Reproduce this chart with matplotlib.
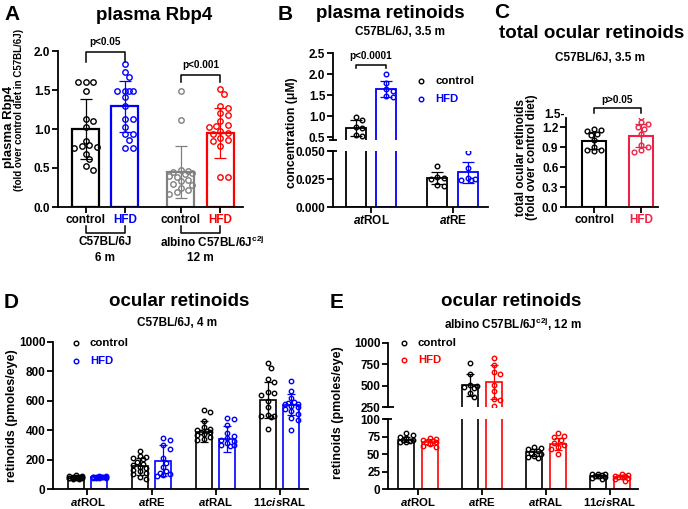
import numpy as np
import matplotlib
matplotlib.use("Agg")
import matplotlib.pyplot as plt
from matplotlib.lines import Line2D

plt.rcParams['font.family'] = ['Liberation Sans', 'DejaVu Sans']
plt.rcParams['font.weight'] = 'bold'
plt.rcParams['mathtext.fontset'] = 'custom'
plt.rcParams['mathtext.rm'] = 'Liberation Sans:bold'
plt.rcParams['mathtext.bf'] = 'Liberation Sans:bold'
plt.rcParams['mathtext.it'] = 'Liberation Sans:italic:bold'

# ---------------- data ----------------
# Panel A: plasma Rbp4 (fold over control diet in C57BL/6J)
a_ticklabels = ['control', 'HFD', 'control', 'HFD']
a_means = [1.00, 1.29, 0.45, 0.95]
a_sds = [0.39, 0.33, 0.33, 0.32]
a_c57_ctrl = [1.60, 1.60, 1.60, 1.49, 1.13, 1.10, 1.02, 0.85, 0.79, 0.78, 0.77, 0.76, 0.68, 0.61, 0.52, 0.48]
a_c57_hfd = [1.83, 1.73, 1.67, 1.49, 1.49, 1.49, 1.49, 1.41, 1.29, 1.13, 1.13, 1.02, 0.93, 0.93, 0.86, 0.76, 0.76]
a_alb_ctrl = [1.49, 1.11, 0.47, 0.46, 0.45, 0.44, 0.42, 0.40, 0.38, 0.35, 0.33, 0.30, 0.28, 0.25, 0.22, 0.19, 0.17]
a_alb_hfd = [1.51, 1.45, 1.29, 1.27, 1.20, 1.18, 1.10, 1.05, 1.04, 1.03, 0.97, 0.95, 0.93, 0.88, 0.86, 0.84, 0.78, 0.39, 0.39]
a_pvals = ['p<0.05', 'p<0.001']

# Panel B: plasma retinoids (uM)
b_cats = ['$\\mathit{at}$ROL', '$\\mathit{at}$RE']
b_ctrl_means = [0.72, 0.026]
b_ctrl_sds = [0.19, 0.0055]
b_hfd_means = [1.64, 0.031]
b_hfd_sds = [0.19, 0.0095]
b_ctrl_pts = [[0.98, 0.90, 0.75, 0.72, 0.55, 0.52], [0.037, 0.027, 0.026, 0.025, 0.020, 0.019]]
b_hfd_pts = [[2.00, 1.78, 1.64, 1.60, 1.48, 1.45], [0.049, 0.035, 0.026, 0.025, 0.024, 0.024]]
b_pval = 'p<0.0001'

# Panel C: total ocular retinoids (fold over control diet)
c_labels = ['control', 'HFD']
c_means = [0.995, 1.07]
c_sds = [0.125, 0.17]
c_ctrl_pts = [1.17, 1.16, 1.14, 1.10, 1.08, 1.01, 0.90, 0.86, 0.85, 0.84]
c_hfd_pts = [1.35, 1.27, 1.25, 1.20, 1.17, 1.10, 0.93, 0.90, 0.85, 0.83]
c_pval = 'p>0.05'

# Panel D: ocular retinoids, C57BL/6J, 4 m (pmoles/eye)
de_cats = ['$\\mathit{at}$ROL', '$\\mathit{at}$RE', '$\\mathit{at}$RAL', '11$\\mathit{cis}$RAL']
d_ctrl_means = [80, 155, 391, 606]
d_ctrl_sds = [8, 58, 70, 122]
d_hfd_means = [80, 192, 338, 574]
d_hfd_sds = [5, 105, 88, 70]
d_ctrl_pts = [
    [92, 88, 86, 84, 82, 80, 79, 78, 77, 76, 75, 74, 72, 70, 68],
    [258, 222, 215, 210, 205, 185, 170, 160, 150, 140, 130, 120, 110, 100, 85, 70],
    [538, 525, 462, 420, 410, 400, 395, 390, 385, 375, 365, 355, 340, 330],
    [854, 826, 746, 731, 660, 652, 640, 600, 560, 505, 500, 495, 488, 406],
]
d_hfd_pts = [
    [88, 86, 84, 83, 82, 81, 80, 80, 79, 78, 77, 76, 75],
    [344, 330, 300, 275, 210, 180, 150, 120, 110, 100, 95, 90],
    [484, 477, 434, 380, 360, 345, 335, 325, 310, 300, 300, 290],
    [735, 670, 620, 590, 585, 580, 575, 565, 555, 545, 530, 510, 480, 470, 400],
]

# Panel E: ocular retinoids, albino C57BL/6J c2j, 12 m (pmoles/eye)
e_ctrl_means = [71, 508, 52.5, 18.5]
e_ctrl_sds = [4, 130, 5.5, 2.3]
e_hfd_means = [67.5, 545, 64.5, 17.5]
e_hfd_sds = [4.5, 200, 9, 2.8]
e_ctrl_pts = [
    [80, 78, 75, 73, 71, 70, 69, 68, 68],
    [759, 635, 510, 500, 490, 470, 420, 375],
    [60, 59, 57, 55, 52, 50, 48, 46, 45],
    [22, 21, 21, 20, 19, 18, 17, 16, 15],
]
e_hfd_pts = [
    [73, 72, 70, 69, 68, 67, 65, 62, 60],
    [825, 745, 665, 640, 510, 440, 350, 340, 265],
    [81, 76, 74, 70, 66, 63, 60, 58, 50],
    [21, 20, 19, 18, 17, 17, 16, 14, 12],
]

legend_labels = ['control', 'HFD']

BLACK = '#000000'
BLUE = '#0000ff'
RED = '#ff0000'
GRAY = '#808080'
CRED = '#ee2244'

# ---------------- figure helpers ----------------
W, H = 688, 509
fig = plt.figure(figsize=(W / 100, H / 100), dpi=100)


def px_ax(l, t, r, b):
    return fig.add_axes([l / W, (H - b) / H, (r - l) / W, (b - t) / H])


def T(x, y, s, **kw):
    kw.setdefault('ha', 'center')
    kw.setdefault('va', 'center')
    kw.setdefault('fontweight', 'bold')
    fig.text(x / W, (H - y) / H, s, **kw)


def legend_item(x, y, label, color, size=8.2):
    fig.add_artist(Line2D([x / W], [(H - y) / H], transform=fig.transFigure, marker='o', ms=3.3,
                          mfc='none', mec=color, mew=1.0, ls='none'))
    T(x + 14, y, label, ha='left', color=color, fontsize=size)


def style(ax, lw=1.3, fs=8.5, bottom=True):
    ax.spines['top'].set_visible(False)
    ax.spines['right'].set_visible(False)
    ax.spines['left'].set_linewidth(lw)
    ax.spines['bottom'].set_linewidth(lw)
    ax.spines['bottom'].set_visible(bottom)
    ax.tick_params(width=lw, length=4, labelsize=fs, pad=1.5)
    ax.tick_params(axis='x', pad=1.0)
    if not bottom:
        ax.tick_params(axis='x', bottom=False, labelbottom=False)
    ax.patch.set_alpha(0)


def swarm(ax, xc, vals, d, maxoff):
    """Horizontal spread of points (pixel space), limited to maxoff pixels."""
    tr = ax.transData
    pts = tr.transform(np.column_stack([np.full(len(vals), float(xc)), np.asarray(vals, float)]))
    step = d * 0.6
    kmax = max(int(maxoff // step), 0)
    ks = [0]
    for k in range(1, kmax + 1):
        ks += [k, -k]
    placed = []
    xs = []
    for px, py in pts:
        best, bestd = px, -1
        chosen = None
        for k in ks:
            cx = px + k * step
            md = min([np.hypot(cx - qx, py - qy) for qx, qy in placed] + [1e9])
            if md >= 0.92 * d:
                chosen = cx
                break
            if md > bestd:
                best, bestd = cx, md
        if chosen is None:
            chosen = best
        placed.append((chosen, py))
        xs.append(chosen)
    back = tr.inverted().transform(np.column_stack([xs, pts[:, 1]]))
    return back[:, 0]


def draw_bar(axes, x, mean, sd, pts, color, width, lw, cap, ms, swarm_ax=None):
    sax = swarm_ax if swarm_ax is not None else axes[0]
    wpx = abs(sax.transData.transform((width, 0))[0] - sax.transData.transform((0, 0))[0])
    xs = swarm(sax, x, pts, ms * 100 / 72 + 1.0, 0.5 * wpx)
    for ax in axes:
        ax.bar(x, mean, width, facecolor='none', edgecolor=color, linewidth=lw, zorder=2)
        ax.errorbar(x, mean, yerr=sd, color=color, capsize=cap, elinewidth=0.9, capthick=0.9,
                    zorder=3, fmt='none')
        ax.plot(xs, pts, 'o', mfc='none', mec=color, mew=1.0, ms=ms, zorder=4, ls='none')


def bracket(ax, x1, x2, y, drop, text, ty, fs=7.2):
    ax.plot([x1, x1, x2, x2], [y - drop, y, y, y - drop], color='black', lw=1.1, clip_on=False)
    ax.text((x1 + x2) / 2, ty, text, ha='center', va='center', fontsize=fs, fontweight='bold', clip_on=False)


def break_mark(ax, yfrac, left_px=4, right_px=4, lw=1.3):
    bb = ax.get_position()
    wpx = bb.width * W
    ax.plot([-left_px / wpx, right_px / wpx], [yfrac, yfrac], transform=ax.transAxes,
            color='black', lw=lw, clip_on=False, solid_capstyle='butt')


# ---------------- Panel A ----------------
axA = px_ax(58, 51, 243, 207)
style(axA)
axA.set_xlim(-0.496, 1.446)
axA.set_ylim(0, 2.0)
axA.set_yticks([0, 0.5, 1.0, 1.5, 2.0])
axA.set_yticklabels(['0.0', '0.5', '1.0', '1.5', '2.0'])
offA, wA = 0.207, 0.283
a_pos = [0 - offA, 0 + offA, 1 - offA, 1 + offA]
a_cols = [BLACK, BLUE, GRAY, RED]
a_pts = [a_c57_ctrl, a_c57_hfd, a_alb_ctrl, a_alb_hfd]
for i in range(4):
    draw_bar([axA], a_pos[i], a_means[i], a_sds[i], a_pts[i], a_cols[i], wA, 1.6, 4.5, 3.9)
axA.set_xticks(a_pos)
axA.set_xticklabels(a_ticklabels, fontsize=8.5)
for lab, c in zip(axA.get_xticklabels(), [BLACK, BLUE, BLACK, RED]):
    lab.set_color(c)
bracket(axA, a_pos[0], a_pos[1], 1.99, 0.13, a_pvals[0], 2.11)
bracket(axA, a_pos[2], a_pos[3], 1.69, 0.09, a_pvals[1], 1.82)
xt = axA.get_xaxis_transform()
fracs = lambda ypx: (207 - ypx) / 156.0
for g in range(2):
    axA.plot([a_pos[2 * g], a_pos[2 * g], a_pos[2 * g + 1], a_pos[2 * g + 1]],
             [fracs(226), fracs(233), fracs(233), fracs(226)], transform=xt, color='black', lw=1.1,
             clip_on=False)
axA.text(0, fracs(242), 'C57BL/6J', transform=xt, ha='center', va='center', fontsize=8.5, fontweight='bold')
axA.text(0, fracs(258), '6 m', transform=xt, ha='center', va='center', fontsize=8.5, fontweight='bold')
axA.text(1.12, fracs(242), 'albino C57BL/6J$^{\\mathrm{c2j}}$', transform=xt, ha='center', va='center',
         fontsize=8.5, fontweight='bold')
axA.text(1.0, fracs(258), '12 m', transform=xt, ha='center', va='center', fontsize=8.5, fontweight='bold')

T(12, 14, 'A', fontsize=15)
T(154, 15, 'plasma Rbp4', fontsize=13.5)
T(9, 127, 'plasma Rbp4', rotation=90, fontsize=9.5)
T(19, 110, '(fold over control diet in C57BL/6J)', rotation=90, fontsize=7)

# ---------------- Panel B ----------------
axBt = px_ax(333, 53, 488, 140)
axBb = px_ax(333, 151, 488, 207)
style(axBt, bottom=False)
style(axBb)
for ax in (axBt, axBb):
    ax.set_xlim(-0.465, 1.432)
axBt.set_ylim(0.43, 2.5)
axBt.set_yticks([0.5, 1.0, 1.5, 2.0, 2.5])
axBt.set_yticklabels(['0.5', '1.0', '1.5', '2.0', '2.5'])
axBb.set_ylim(0, 0.05)
axBb.set_yticks([0, 0.025, 0.05])
axBb.set_yticklabels(['0.000', '0.025', '0.050'])
offB, wB = 0.188, 0.245
for g in range(2):
    sax = axBt if g == 0 else axBb
    draw_bar([axBt, axBb], g - offB, b_ctrl_means[g], b_ctrl_sds[g], b_ctrl_pts[g], BLACK, wB, 1.3, 4, 3.3, sax)
    draw_bar([axBt, axBb], g + offB, b_hfd_means[g], b_hfd_sds[g], b_hfd_pts[g], BLUE, wB, 1.3, 4, 3.3, sax)
axBb.set_xticks([0, 1])
axBb.set_xticklabels(b_cats, fontsize=8.5)
bracket(axBt, -offB, offB, 2.21, 0.07, b_pval, 2.42)
break_mark(axBt, 0, 4, 4)
break_mark(axBb, 1, 4, 4)
T(285, 14, 'B', fontsize=15)
T(390, 14, 'plasma retinoids', fontsize=13.5)
T(400, 32, 'C57BL/6J, 3.5 m', fontsize=8.5)
T(292, 133, 'concentration (\u03bcM)', rotation=90, fontsize=8.8)
legend_item(421, 81, legend_labels[0], BLACK)
legend_item(421, 99, legend_labels[1], BLUE)

# ---------------- Panel C ----------------
axC = px_ax(566, 118, 658, 207)
style(axC)
axC.set_xlim(-0.596, 1.362)
axC.set_ylim(0, 1.335)
axC.set_yticks([0, 0.3, 0.6, 0.9, 1.2])
axC.set_yticklabels(['0.0', '0.3', '0.6', '0.9', '1.2'])
axC.text(-0.01, 1.378, '1.5-', transform=axC.get_yaxis_transform(), ha='right', va='center',
         fontsize=8.5, fontweight='bold')
wC = 0.53
draw_bar([axC], 0, c_means[0], c_sds[0], c_ctrl_pts, BLACK, wC, 1.5, 4.5, 3.4)
draw_bar([axC], 1, c_means[1], c_sds[1], c_hfd_pts, CRED, wC, 1.5, 4.5, 3.4)
axC.set_xticks([0, 1])
axC.set_xticklabels(c_labels, fontsize=8.5)
axC.get_xticklabels()[1].set_color(CRED)
bracket(axC, 0, 1, 1.485, 0.075, c_pval, 1.6)
T(502, 12, 'C', fontsize=15)
T(592, 34, 'total ocular retinoids', fontsize=13.5)
T(600, 58, 'C57BL/6J, 3.5 m', fontsize=8.5)
T(521, 157, 'total ocular retinoids', rotation=90, fontsize=8.5)
T(532, 157, '(fold over control diet)', rotation=90, fontsize=8.5)

# ---------------- Panel D ----------------
axD = px_ax(53, 342, 308, 489)
style(axD)
axD.set_xlim(-0.539, 3.445)
axD.set_ylim(0, 1000)
axD.set_yticks([0, 200, 400, 600, 800, 1000])
offD, wD = 0.181, 0.242
for g in range(4):
    draw_bar([axD], g - offD, d_ctrl_means[g], d_ctrl_sds[g], d_ctrl_pts[g], BLACK, wD, 1.2, 3, 3.2)
    draw_bar([axD], g + offD, d_hfd_means[g], d_hfd_sds[g], d_hfd_pts[g], BLUE, wD, 1.2, 3, 3.2)
axD.set_xticks(range(4))
axD.set_xticklabels(de_cats, fontsize=8.2)
T(11, 302, 'D', fontsize=15)
T(179, 302, 'ocular retinoids', fontsize=13.5)
T(177, 323, 'C57BL/6J, 4 m', fontsize=8.5)
T(12, 416, 'retinoids (pmoles/eye)', rotation=90, fontsize=9)
legend_item(76, 343, legend_labels[0], BLACK)
legend_item(76, 361, legend_labels[1], BLUE)

# ---------------- Panel E ----------------
axEt = px_ax(388, 342.7, 638, 407.3)
axEb = px_ax(388, 419.3, 638, 489)
style(axEt, bottom=False)
style(axEb)
for ax in (axEt, axEb):
    ax.set_xlim(-0.469, 3.4375)
axEt.set_ylim(250, 1000)
axEt.set_yticks([250, 500, 750, 1000])
axEb.set_ylim(0, 100)
axEb.set_yticks([0, 25, 50, 75, 100])
offE, wE = 0.183, 0.25
for g in range(4):
    sax = axEt if g == 1 else axEb
    draw_bar([axEt, axEb], g - offE, e_ctrl_means[g], e_ctrl_sds[g], e_ctrl_pts[g], BLACK, wE, 1.2, 3, 3.2, sax)
    draw_bar([axEt, axEb], g + offE, e_hfd_means[g], e_hfd_sds[g], e_hfd_pts[g], RED, wE, 1.2, 3, 3.2, sax)
axEb.set_xticks(range(4))
axEb.set_xticklabels(de_cats, fontsize=8.2)
break_mark(axEt, 0, 4, 6)
break_mark(axEb, 1, 4, 4)
T(337, 303, 'E', fontsize=15)
T(511, 302, 'ocular retinoids', fontsize=13.5)
T(513, 324, 'albino C57BL/6J$^{\\mathrm{c2j}}$, 12 m', fontsize=8.5)
T(338, 413, 'retinoids (pmoles/eye)', rotation=90, fontsize=9)
legend_item(404, 343, legend_labels[0], BLACK)
legend_item(404, 360, legend_labels[1], RED)

fig.savefig('out.png', dpi=100)
